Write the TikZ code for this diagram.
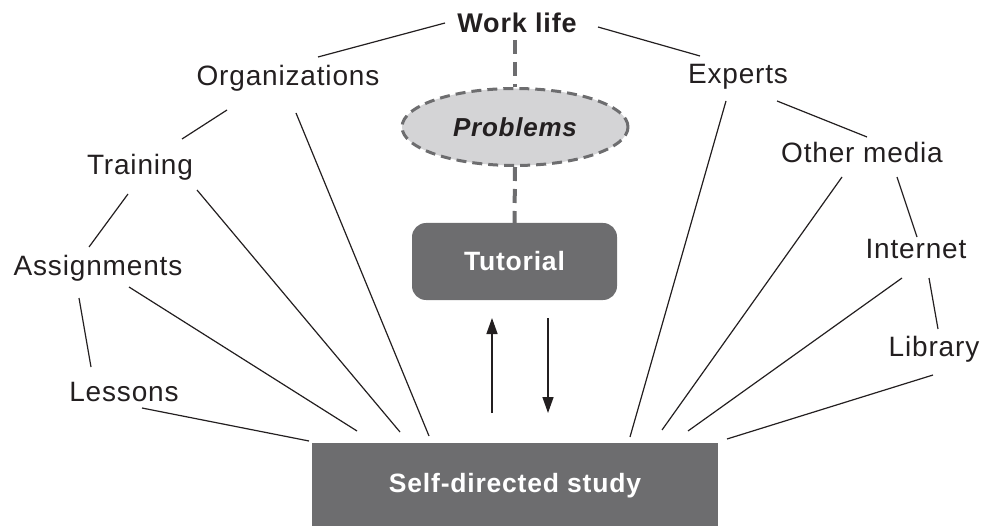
\documentclass[tikz,border=0pt]{standalone}
\usepackage{fontspec}
\setmainfont[LetterSpace=3]{Liberation Sans}
\usetikzlibrary{shapes.geometric,arrows.meta}
\definecolor{boxgray}{HTML}{6D6D6F}
\definecolor{lightgray2}{HTML}{D4D4D6}
\definecolor{ink}{HTML}{231F20}
\begin{document}
\begin{tikzpicture}[x=1pt,y=-1pt,
  lbl/.style={font=\fontsize{28}{32}\selectfont, text=ink, inner sep=0pt},
  conn/.style={draw=ink, line width=1.2pt},
  dashconn/.style={draw=boxgray, line width=4pt, dash pattern=on 14pt off 8pt},
  darkbox/.style={fill=boxgray, text=white, font=\fontsize{26.5}{30}\selectfont\bfseries, inner sep=0pt},
  arr/.style={draw=ink, line width=1.4pt, -{Triangle[length=16pt,width=11pt]}}]
\useasboundingbox (0,0) rectangle (984,526);

% nodes
\node[lbl, font=\fontsize{27}{32}\selectfont\bfseries] (work) at (517,23) {Work life};
\node[lbl] (org) at (288,78) {Organizations};
\node[lbl] (exp) at (738,77) {Experts};
\node[lbl] (train) at (140,167) {Training};
\node[lbl] (other) at (862,152) {Other media};
\node[lbl] (inet) at (916,249) {Internet};
\node[lbl] (lib) at (934,349) {Library};
\node[lbl] (assign) at (98,268) {Assignments};
\node[lbl] (less) at (124,392) {Lessons};

\node[ellipse, draw=boxgray, line width=3pt, dash pattern=on 10pt off 6pt, fill=lightgray2,
      minimum width=226pt, minimum height=77pt, inner sep=0pt, text=ink,
      font=\fontsize{26}{30}\selectfont\bfseries\itshape] (prob) at (515,127) {Problems};
\node[darkbox, rounded corners=14pt, minimum width=205pt, minimum height=77pt] (tut) at (514.5,261.5) {Tutorial};
\node[darkbox, minimum width=406pt, minimum height=86pt] (sds) at (515,486) {Self-directed study};

% dashed links
\draw[dashconn] (prob.north |- 0,40) coordinate (wkdash) -- (prob.north);
\draw[dashconn] (prob.south) -- (tut.north);

% arrows
\coordinate (upA) at (492,413);
\coordinate (upB) at (492,318);
\coordinate (dnA) at (548,318);
\coordinate (dnB) at (548,413);
\draw[arr] (upA) -- (upB);
\draw[arr] (dnA) -- (dnB);

% connector end points
\coordinate (work-w) at (445,23);
\coordinate (org-ne) at (318,57);
\coordinate (work-e) at (598,27);
\coordinate (exp-nw) at (700,56);
\coordinate (org-sw) at (227,110);
\coordinate (train-ne) at (182,139);
\coordinate (train-s) at (128,194);
\coordinate (assign-n) at (89,247);
\coordinate (assign-s) at (79,298);
\coordinate (less-n) at (91,367);
\coordinate (less-se) at (142,408);
\coordinate (assign-se) at (129,287);
\coordinate (train-se) at (197,190);
\coordinate (org-s) at (296,113);
\coordinate (exp-s) at (726,101);
\coordinate (exp-se) at (777,101);
\coordinate (other-nw) at (867,137);
\coordinate (other-sw) at (842,177);
\coordinate (other-s) at (897,177);
\coordinate (inet-n) at (917,237);
\coordinate (inet-sw) at (902,278);
\coordinate (inet-s) at (929,278);
\coordinate (lib-n) at (938,329);
\coordinate (lib-s) at (933,375);
\coordinate (sds1) at (309,441);
\coordinate (sds2) at (357,431);
\coordinate (sds3) at (400,432);
\coordinate (sds4) at (429,436);
\coordinate (sds5) at (630,437);
\coordinate (sds6) at (662,430);
\coordinate (sds7) at (688,431);
\coordinate (sds8) at (727,439);

% chain links
\draw[conn] (work-w) -- (org-ne);
\draw[conn] (work-e) -- (exp-nw);
\draw[conn] (org-sw) -- (train-ne);
\draw[conn] (train-s) -- (assign-n);
\draw[conn] (assign-s) -- (less-n);
\draw[conn] (exp-se) -- (other-nw);
\draw[conn] (other-s) -- (inet-n);
\draw[conn] (inet-s) -- (lib-n);

% spokes to self-directed study
\draw[conn] (less-se) -- (sds1);
\draw[conn] (assign-se) -- (sds2);
\draw[conn] (train-se) -- (sds3);
\draw[conn] (org-s) -- (sds4);
\draw[conn] (exp-s) -- (sds5);
\draw[conn] (other-sw) -- (sds6);
\draw[conn] (inet-sw) -- (sds7);
\draw[conn] (lib-s) -- (sds8);
\end{tikzpicture}
\end{document}
